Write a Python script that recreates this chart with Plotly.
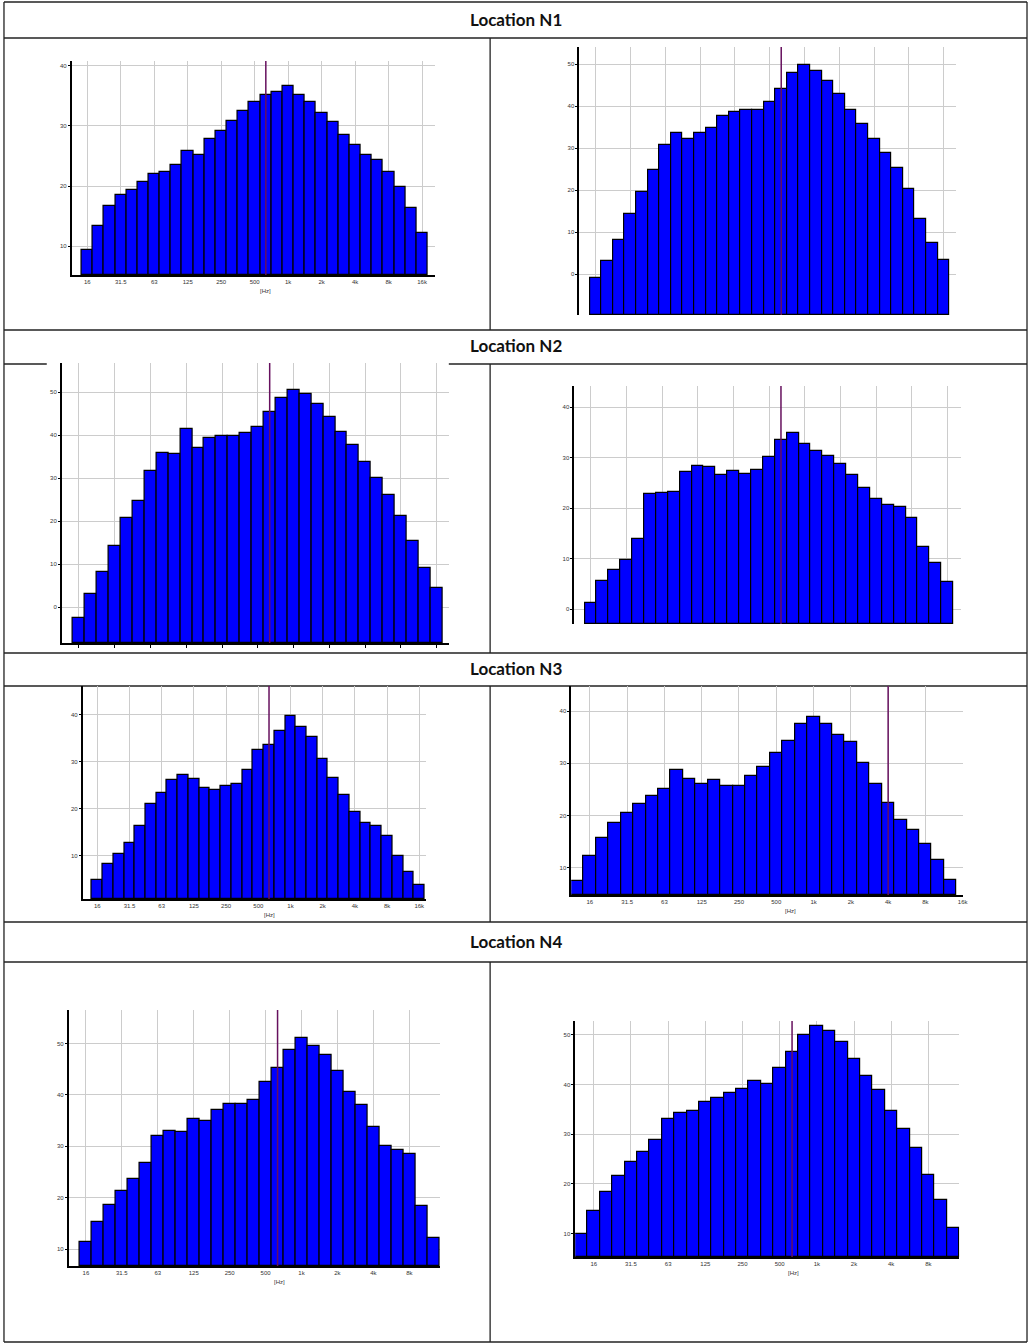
import plotly.graph_objects as go

W, H = 1034, 1344

# 1/3-octave band labels (index 0 = 12.5 Hz)
FREQS = ["12.5", "16", "20", "25", "31.5", "40", "50", "63", "80", "100", "125", "160",
         "200", "250", "315", "400", "500", "630", "800", "1k", "1.25k", "1.6k", "2k",
         "2.5k", "3.15k", "4k", "5k", "6.3k", "8k", "10k", "12.5k", "16k"]
TICK_BANDS = ["16", "31.5", "63", "125", "250", "500", "1k", "2k", "4k", "8k", "16k"]
LOCATIONS = ["Location N1", "Location N2", "Location N3", "Location N4"]

# spectra (dB)
n1_left = [9.4, 13.3, 16.6, 18.5, 19.4, 20.7, 22.0, 22.4, 23.5, 25.9, 25.2, 27.9, 29.2, 30.9, 32.4, 33.9,
           35.1, 35.7, 36.6, 35.1, 33.9, 32.2, 30.7, 28.5, 26.9, 25.2, 24.4, 22.4, 19.8, 16.3, 12.2]
n1_right = [-0.95, 3.2, 8.1, 14.4, 19.6, 24.8, 30.8, 33.6, 32.1, 33.6, 34.8, 37.6, 38.7, 39.1, 39.1, 41.0,
            44.1, 47.9, 49.8, 48.5, 46.0, 42.9, 39.1, 35.7, 32.1, 28.9, 25.2, 20.2, 13.1, 7.5, 3.4]
n2_left = [-2.4, 3.0, 8.2, 14.3, 20.7, 24.7, 31.7, 35.9, 35.6, 41.4, 37.1, 39.3, 39.8, 39.8, 40.5, 42.0,
           45.4, 48.7, 50.5, 49.7, 47.2, 44.2, 40.8, 37.7, 33.7, 30.1, 26.2, 21.3, 15.5, 9.1, 4.6]
n2_right = [1.25, 5.6, 7.7, 9.8, 13.9, 22.7, 22.9, 23.2, 27.1, 28.3, 28.1, 26.5, 27.4, 26.7, 27.6, 30.2,
            33.5, 34.9, 32.8, 31.4, 30.4, 28.8, 26.5, 24.0, 21.9, 20.6, 20.3, 18.0, 12.3, 9.2, 5.4]
n3_left = [4.95, 8.2, 10.4, 12.7, 16.3, 21.1, 23.3, 26.1, 27.2, 26.3, 24.4, 24.1, 24.9, 25.3, 28.3, 32.4,
           33.6, 36.6, 39.7, 37.4, 35.2, 30.5, 26.6, 23.0, 19.4, 16.9, 16.3, 14.3, 9.9, 6.6, 3.75]
n3_right = [7.4, 12.2, 15.8, 18.5, 20.5, 22.3, 23.8, 25.0, 28.8, 27.0, 26.0, 26.8, 25.7, 25.7, 27.5, 29.3,
            32.0, 34.2, 37.5, 38.8, 37.5, 35.5, 34.0, 30.0, 26.0, 22.5, 19.2, 17.2, 14.5, 11.5, 7.7]
n4_left = [11.4, 15.25, 18.55, 21.3, 23.6, 26.65, 32.0, 33.0, 32.75, 35.3, 35.0, 37.0, 38.3, 38.3, 39.0,
           42.5, 45.2, 48.8, 51.0, 49.5, 47.7, 44.6, 40.6, 38.1, 33.7, 30.0, 29.2, 28.4, 18.3, 12.2]
n4_right = [10.0, 14.5, 18.4, 21.6, 24.5, 26.5, 28.9, 33.1, 34.3, 34.7, 36.5, 37.3, 38.4, 39.1, 40.7, 40.2,
            43.3, 46.5, 49.9, 51.7, 50.7, 48.5, 45.1, 41.7, 38.9, 34.7, 31.1, 27.3, 21.8, 16.8, 11.1]

# first band of each spectrum and band of the marker line
first_band = ["16", "16", "16", "16", "16", "12.5", "16", "12.5"]
marker_band = ["630", "630", "630", "630", "630", "4k", "630", "630"]
series = [n1_left, n1_right, n2_left, n2_right, n3_left, n3_right, n4_left, n4_right]

# layout of each panel (pixels): x0, x1, y_top, y_bottom, y range, x range, labels, x-line, ticks, hz x-frac
panels = [
    dict(px=(72, 437, 61, 275), yr=(5.2, 40.8), xr=(-0.4, 32.15), lab=True, xline=True, tk=False, hz=0.534),
    dict(px=(582, 961, 47, 315), yr=(-9.7, 54.1), xr=(-0.42, 32.1), lab=False, xline=False, tk=False, hz=None),
    dict(px=(62, 451, 363, 643), yr=(-8.3, 56.8), xr=(-0.45, 32.03), lab=False, xline=True, tk=True, hz=None),
    dict(px=(577, 966, 386, 624), yr=(-2.97, 44.2), xr=(-0.39, 32.17), lab=False, xline=False, tk=False, hz=None),
    dict(px=(83, 428, 686, 899), yr=(0.83, 46.1), xr=(-0.37, 31.62), lab=True, xline=True, tk=False, hz=0.545),
    dict(px=(574, 968, 686, 895), yr=(4.8, 44.8), xr=(-0.5, 31.05), lab=True, xline=True, tk=False, hz=0.56),
    dict(px=(69, 442, 1010, 1266), yr=(6.7, 56.5), xr=(-0.44, 30.55), lab=True, xline=True, tk=False, hz=0.567),
    dict(px=(578, 964, 1021, 1257), yr=(5.3, 52.8), xr=(-0.5, 30.5), lab=True, xline=True, tk=False, hz=0.567),
]

BLUE = "#0000FF"
GRID = "#cccccc"
PURPLE = "#66105e"
TICKFONT = dict(family="Liberation Sans, Arial", size=6, color="#333")

fig = go.Figure()
layout = dict(width=W, height=H, margin=dict(l=0, r=0, t=0, b=0),
              paper_bgcolor="white", plot_bgcolor="white", showlegend=False,
              bargap=0)
shapes = []
annotations = []

tickvals = [FREQS.index(b) for b in TICK_BANDS]

for k, (p, vals, fb, mb) in enumerate(zip(panels, series, first_band, marker_band), start=1):
    sfx = "" if k == 1 else str(k)
    x0, x1, yt, yb = p["px"]
    start = FREQS.index(fb)
    xs = [start + i for i in range(len(vals))]
    floor = p["yr"][0]
    fig.add_trace(go.Bar(
        x=xs, y=[v - floor for v in vals], base=floor,
        customdata=[FREQS[x] for x in xs],
        hovertemplate="%{customdata} Hz: %{y}<extra></extra>",
        marker=dict(color=BLUE, line=dict(color="black", width=1.2)),
        width=1.0, xaxis="x" + sfx, yaxis="y" + sfx))
    layout["xaxis" + sfx] = dict(
        domain=[x0 / W, x1 / W], range=list(p["xr"]), anchor="y" + sfx,
        tickmode="array", tickvals=tickvals, ticktext=TICK_BANDS if p["lab"] else [""] * len(tickvals),
        showticklabels=True, tickfont=TICKFONT,
        showgrid=True, gridcolor=GRID, gridwidth=1.2, zeroline=False,
        showline=p["xline"], linecolor="black", linewidth=1.5,
        ticks="outside" if p["tk"] else "", ticklen=3, tickcolor="black")
    layout["yaxis" + sfx] = dict(
        domain=[1 - yb / H, 1 - yt / H], range=list(p["yr"]), anchor="x" + sfx,
        tick0=0, dtick=10, tickfont=TICKFONT,
        showgrid=True, gridcolor=GRID, gridwidth=1.2, zeroline=False,
        showline=True, linecolor="black", linewidth=1.5,
        ticks="outside", ticklen=2, tickcolor="black")
    shapes.append(dict(type="line", xref="x" + sfx, yref="y" + sfx + " domain",
                       x0=FREQS.index(mb), x1=FREQS.index(mb), y0=0, y1=1,
                       line=dict(color=PURPLE, width=1.5), layer="above"))
    if p["hz"] is not None:
        annotations.append(dict(text="[Hz]", xref="x" + sfx + " domain", x=p["hz"],
                                yref="paper", y=1 - (yb + 16) / H, showarrow=False,
                                font=TICKFONT, xanchor="center", yanchor="middle"))

# table frame
def hline(y, xa, xb):
    shapes.append(dict(type="line", xref="paper", yref="paper", x0=xa / W, x1=xb / W,
                       y0=1 - y / H, y1=1 - y / H, line=dict(color="#222", width=1.3), layer="below"))

def vline(x, ya, yb):
    shapes.append(dict(type="line", xref="paper", yref="paper", x0=x / W, x1=x / W,
                       y0=1 - ya / H, y1=1 - yb / H, line=dict(color="#222", width=1.3), layer="below"))

L, R = 4, 1032
for y in (2, 38, 330, 653, 686, 922, 962, 1342):
    hline(y, L, R)
hline(364, L, 47)
hline(364, 451, R)
vline(L, 2, 1342)
vline(R, 2, 1342)
for ya, yb in ((38, 330), (364, 653), (686, 922), (962, 1342)):
    vline(492.5, ya, yb)

for name, yc in zip(LOCATIONS, (19, 346, 668, 942)):
    annotations.append(dict(text="<b>" + name + "</b>", xref="paper", yref="paper",
                            x=519 / W, y=1 - yc / H, showarrow=False,
                            font=dict(family="Lato, Open Sans, sans-serif", size=17, color="#111"),
                            xanchor="center", yanchor="middle"))

layout["shapes"] = shapes
layout["annotations"] = annotations
fig.update_layout(**layout)
fig.write_html("out.html", config={"displayModeBar": False},
               post_script="document.body.style.margin='0';document.body.style.overflow='hidden';")
